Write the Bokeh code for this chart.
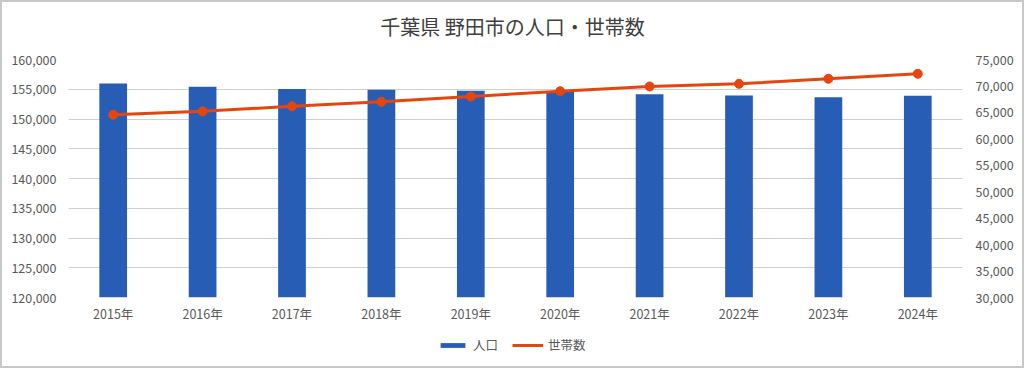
from bokeh.plotting import figure
from bokeh.layouts import column
from bokeh.models import (FactorRange, Range1d, LinearAxis, FixedTicker,
                          NumeralTickFormatter, Legend, LegendItem, ColumnDataSource,
                          Label)
from bokeh.embed import file_html
from bokeh.resources import INLINE

years = ["2015年", "2016年", "2017年", "2018年", "2019年",
         "2020年", "2021年", "2022年", "2023年", "2024年"]
population = [155950, 155400, 155050, 154900, 154750,
              154600, 154150, 153950, 153650, 153900]
households = [64550, 65200, 66150, 67000, 68000,
              69000, 69900, 70400, 71350, 72300]
title_text = "千葉県 野田市の人口・世帯数"
series_names = ["人口", "世帯数"]

FONT = "Noto Sans CJK JP"
BLUE = "#285DB6"
ORANGE = "#E5460F"
TXT = "#595959"

src = ColumnDataSource(dict(x=years, pop=population, hh=households))

# title strip
t = figure(width=1020, height=45, x_range=Range1d(0, 1), y_range=Range1d(0, 1),
           output_backend="svg", toolbar_location=None,
           x_axis_location=None, y_axis_location=None,
           min_border_left=0, min_border_right=0, min_border_top=0, min_border_bottom=0)
t.grid.grid_line_color = None
t.outline_line_color = None
t.add_layout(Label(x=0.4966, y=21, y_units="screen", text=title_text,
                   text_font=FONT, text_font_size="20px", text_color="#404040",
                   text_align="center", text_baseline="middle"))

p = figure(width=1020, height=283, x_range=FactorRange(*years, range_padding=0),
           y_range=Range1d(120000, 160000), output_backend="svg",
           toolbar_location=None, min_border_left=66, min_border_right=60,
           min_border_top=12, min_border_bottom=33)
p.extra_y_ranges = {"right": Range1d(30000, 75000)}
p.outline_line_color = None
p.background_fill_color = "white"
p.border_fill_color = "white"

bars = p.vbar(x="x", top="pop", bottom=120000, width=0.31, source=src,
              fill_color=BLUE, line_color=None)
line = p.line(x="x", y="hh", source=src, line_color=ORANGE, line_width=3,
              y_range_name="right")
pts = p.scatter(x="x", y="hh", source=src, size=9, fill_color=ORANGE,
                line_color=ORANGE, y_range_name="right")

p.yaxis.ticker = FixedTicker(ticks=list(range(120000, 160001, 5000)))
p.yaxis.formatter = NumeralTickFormatter(format="0,0")

raxis = LinearAxis(y_range_name="right",
                   ticker=FixedTicker(ticks=list(range(30000, 75001, 5000))),
                   formatter=NumeralTickFormatter(format="0,0"))
p.add_layout(raxis, "right")

for ax in [p.yaxis[0], raxis, p.xaxis[0]]:
    ax.axis_line_color = None
    ax.major_tick_line_color = None
    ax.minor_tick_line_color = None
    ax.major_label_text_font = FONT
    ax.major_label_text_font_size = "12.5px"
    ax.major_label_text_color = TXT

p.yaxis[0].major_label_standoff = 6
raxis.major_label_standoff = 7
p.xaxis.major_label_standoff = 0
p.xgrid.grid_line_color = None
p.ygrid.grid_line_color = "#D0D0D0"
p.ygrid.grid_line_width = 1

# legend strip below the chart: same series (key only; data lies outside this strip's range)
q = figure(width=1020, height=36, x_range=p.x_range, y_range=Range1d(0, 1),
           output_backend="svg", toolbar_location=None,
           x_axis_location=None, y_axis_location=None,
           min_border_left=0, min_border_right=0, min_border_top=0, min_border_bottom=0)
q.grid.grid_line_color = None
q.outline_line_color = None
lb = q.vbar(x="x", top="pop", bottom=120000, width=0.31, source=src,
            fill_color=BLUE, line_color=None, visible=False)
ll = q.line(x="x", y="hh", source=src, line_color=ORANGE, line_width=3, visible=False)
lp = q.scatter(x="x", y="hh", source=src, size=9, fill_color=ORANGE,
               line_color=ORANGE)
legend = Legend(items=[LegendItem(label=series_names[0], renderers=[lb]),
                       LegendItem(label=series_names[1], renderers=[ll, lp])],
                orientation="horizontal", location=(369, 12),
                label_text_font=FONT, label_text_font_size="12.5px",
                label_text_color=TXT, border_line_color=None,
                background_fill_alpha=0, inactive_fill_alpha=0,
                label_standoff=5,
                glyph_width=31, glyph_height=6, spacing=14, padding=4, margin=0)
q.add_layout(legend)

layout = column(t, p, q, spacing=0, styles={"border": "2px solid #C8C8C8"})

open("out.html", "w").write(file_html(layout, INLINE))
